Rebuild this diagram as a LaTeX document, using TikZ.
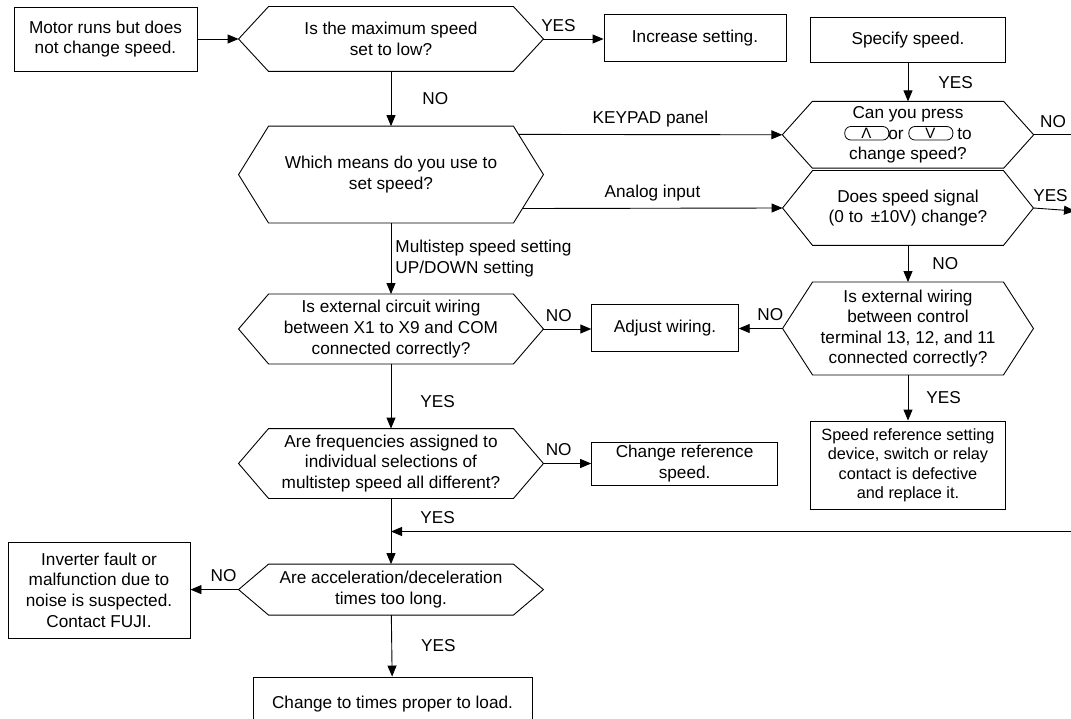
\documentclass[tikz,border=0pt]{standalone}
\usepackage{fontspec}
\setmainfont{Liberation Sans}
\usetikzlibrary{arrows.meta, positioning, calc}

\newcommand\keycap[1]{%
  \makebox[0pt][l]{\tikz[baseline=0pt]\draw[line width=0.8pt, rounded corners=6pt]
    (0pt,-1pt) rectangle (44pt,12.5pt);}%
  \makebox[44pt]{\raisebox{0.3pt}{\fontsize{15}{15}\selectfont #1}}}

\begin{document}
\begin{tikzpicture}[x=1pt, y=-1pt, line width=0.9pt,
    font=\fontsize{17.2}{20.6}\selectfont,
    box/.style={draw, align=center, inner sep=0pt},
    query/.style={align=center, inner sep=0pt},
    flow/.style={-{Triangle[length=11pt, width=9pt]}},
    tag/.style={inner sep=1pt}]
  \path[use as bounding box, clip] (0,0) rectangle (1071,719);

  % left column
  \node[box, minimum width=183pt, minimum height=64pt] (motor) at (105.5,39)
    {Motor runs but does\\not change speed.};
  \node[query, minimum width=244pt, minimum height=64pt] (qmax) at (391,39)
    {Is the maximum speed\\set to low?};
  \node[query, minimum width=244pt, minimum height=96pt] (qmeans) at (391,174.6)
    {Which means do you use to\\set speed?};
  \node[query, minimum width=244pt, minimum height=69pt] (qx1) at (391,329)
    {Is external circuit wiring\\between X1 to X9 and COM\\connected correctly?};
  \node[query, minimum width=244pt, minimum height=69pt] (qfreq) at (391,463.5)
    {Are frequencies assigned to\\individual selections of\\multistep speed all different?};
  \node[query, minimum width=244pt, minimum height=50pt] (qaccel) at (391,589.6)
    {Are acceleration/deceleration\\times too long.};
  \node[box, minimum width=182pt, minimum height=96pt] (inv) at (99,590)
    {Inverter fault or\\malfunction due to\\noise is suspected.\\Contact FUJI.};
  \node[box, minimum width=279pt, minimum height=54pt] (final) at (392.5,704)
    {Change to times proper to load.};

  % middle and right column
  \node[box, minimum width=182pt, minimum height=47pt] (inc) at (695,38) {Increase setting.};
  \node[box, minimum width=195pt, minimum height=45.6pt] (spec) at (908,39.8) {Specify speed.};
  \node[query, minimum width=191pt, minimum height=66.4pt] (qkey) at (908,134.8)
    {Can you press\\\keycap{Λ}or \keycap{V} to\\change speed?};
  \node[query, minimum width=190pt, minimum height=74pt] (qsig) at (908,208)
    {Does speed signal\\(0 to \,±10V) change?};
  \node[query, minimum width=190pt, minimum height=92pt] (qwire) at (908,328.5)
    {Is external wiring\\between control\\terminal 13, 12, and 11\\connected correctly?};
  \node[box, minimum width=146.5pt, minimum height=46.5pt] (adjust) at (665,328) {Adjust wiring.};
  \node[box, minimum width=186pt, minimum height=42.4pt] (chref) at (684.6,463.8)
    {Change reference\\speed.};
  \node[box, minimum width=195pt, minimum height=88.6pt,
        font=\fontsize{16.3}{19.6}\selectfont] (spref) at (908,465.3)
    {Speed reference setting\\device, switch or relay\\contact is defective\\and replace it.};

  % hexagon outlines and their tips
  \foreach \n in {qmax,qmeans,qx1,qfreq,qaccel,qkey,qsig,qwire} {
    \coordinate (\n-w) at ([xshift=-30pt]\n.west);
    \coordinate (\n-e) at ([xshift=30pt]\n.east);
    \draw (\n-w) -- (\n.north west) -- (\n.north east) -- (\n-e)
      -- (\n.south east) -- (\n.south west) -- cycle;
  }

  % lines running off the right edge
  \coordinate (rimkey) at (1075,134.8);
  \coordinate (rimsig) at (1075,211);
  \coordinate (rimback) at (1075,531.5);

  % connectors
  \draw[flow] (motor) -- (qmax-w);
  \draw[flow] (qmax-e) -- node[tag, above=6pt, pos=0.25] {YES} (qmax-e -| inc.west);
  \draw[flow] (qmax) -- node[tag, right=30pt] {NO} (qmeans);
  \draw[flow] ($(qmeans.north east)!0.17!(qmeans-e)$) -- node[tag, above=6pt] {KEYPAD panel} (qkey-w);
  \draw[flow] ($(qmeans.south east)!0.3!(qmeans-e)$) -- node[tag, above=6pt] {Analog input} (qsig-w);
  \draw[flow] (qmeans) -- node[tag, right=3pt, align=left] {Multistep speed setting\\UP/DOWN setting} (qx1);
  \draw[flow] (qx1-e) -- node[tag, above=6pt, pos=0.32] {NO} (qx1-e -| adjust.west);
  \draw[flow] (qx1) -- node[tag, right=28pt, pos=0.58] {YES} (qfreq);
  \draw[flow] (qfreq-e) -- node[tag, above=6pt, pos=0.32] {NO} (qfreq-e -| chref.west);
  \draw[flow] (qfreq) -- node[tag, right=28pt, pos=0.29] {YES} (qaccel);
  \draw[flow] (rimback) -- (rimback -| qfreq.south);
  \draw[flow] (qaccel-w) -- node[tag, above=6pt, pos=0.31] {NO} (qaccel-w -| inv.east);
  \draw[flow] (qaccel) -- node[tag, right=28pt] {YES} (final);
  \draw[flow] (spec) -- node[tag, right=29pt] {YES} (qkey);
  \draw (qkey-e) -- node[tag, above=6pt, pos=0.47] {NO} (rimkey);
  \draw[flow] (qsig-e) -- node[tag, above=6pt, pos=0.41] {YES} (rimsig);
  \draw[flow] (qsig) -- node[tag, right=23pt] {NO} (qwire);
  \draw[flow] (qwire-w) -- node[tag, above=6pt, pos=0.28] {NO} (qwire-w -| adjust.east);
  \draw[flow] (qwire) -- node[tag, right=17pt] {YES} (spref);
\end{tikzpicture}
\end{document}
